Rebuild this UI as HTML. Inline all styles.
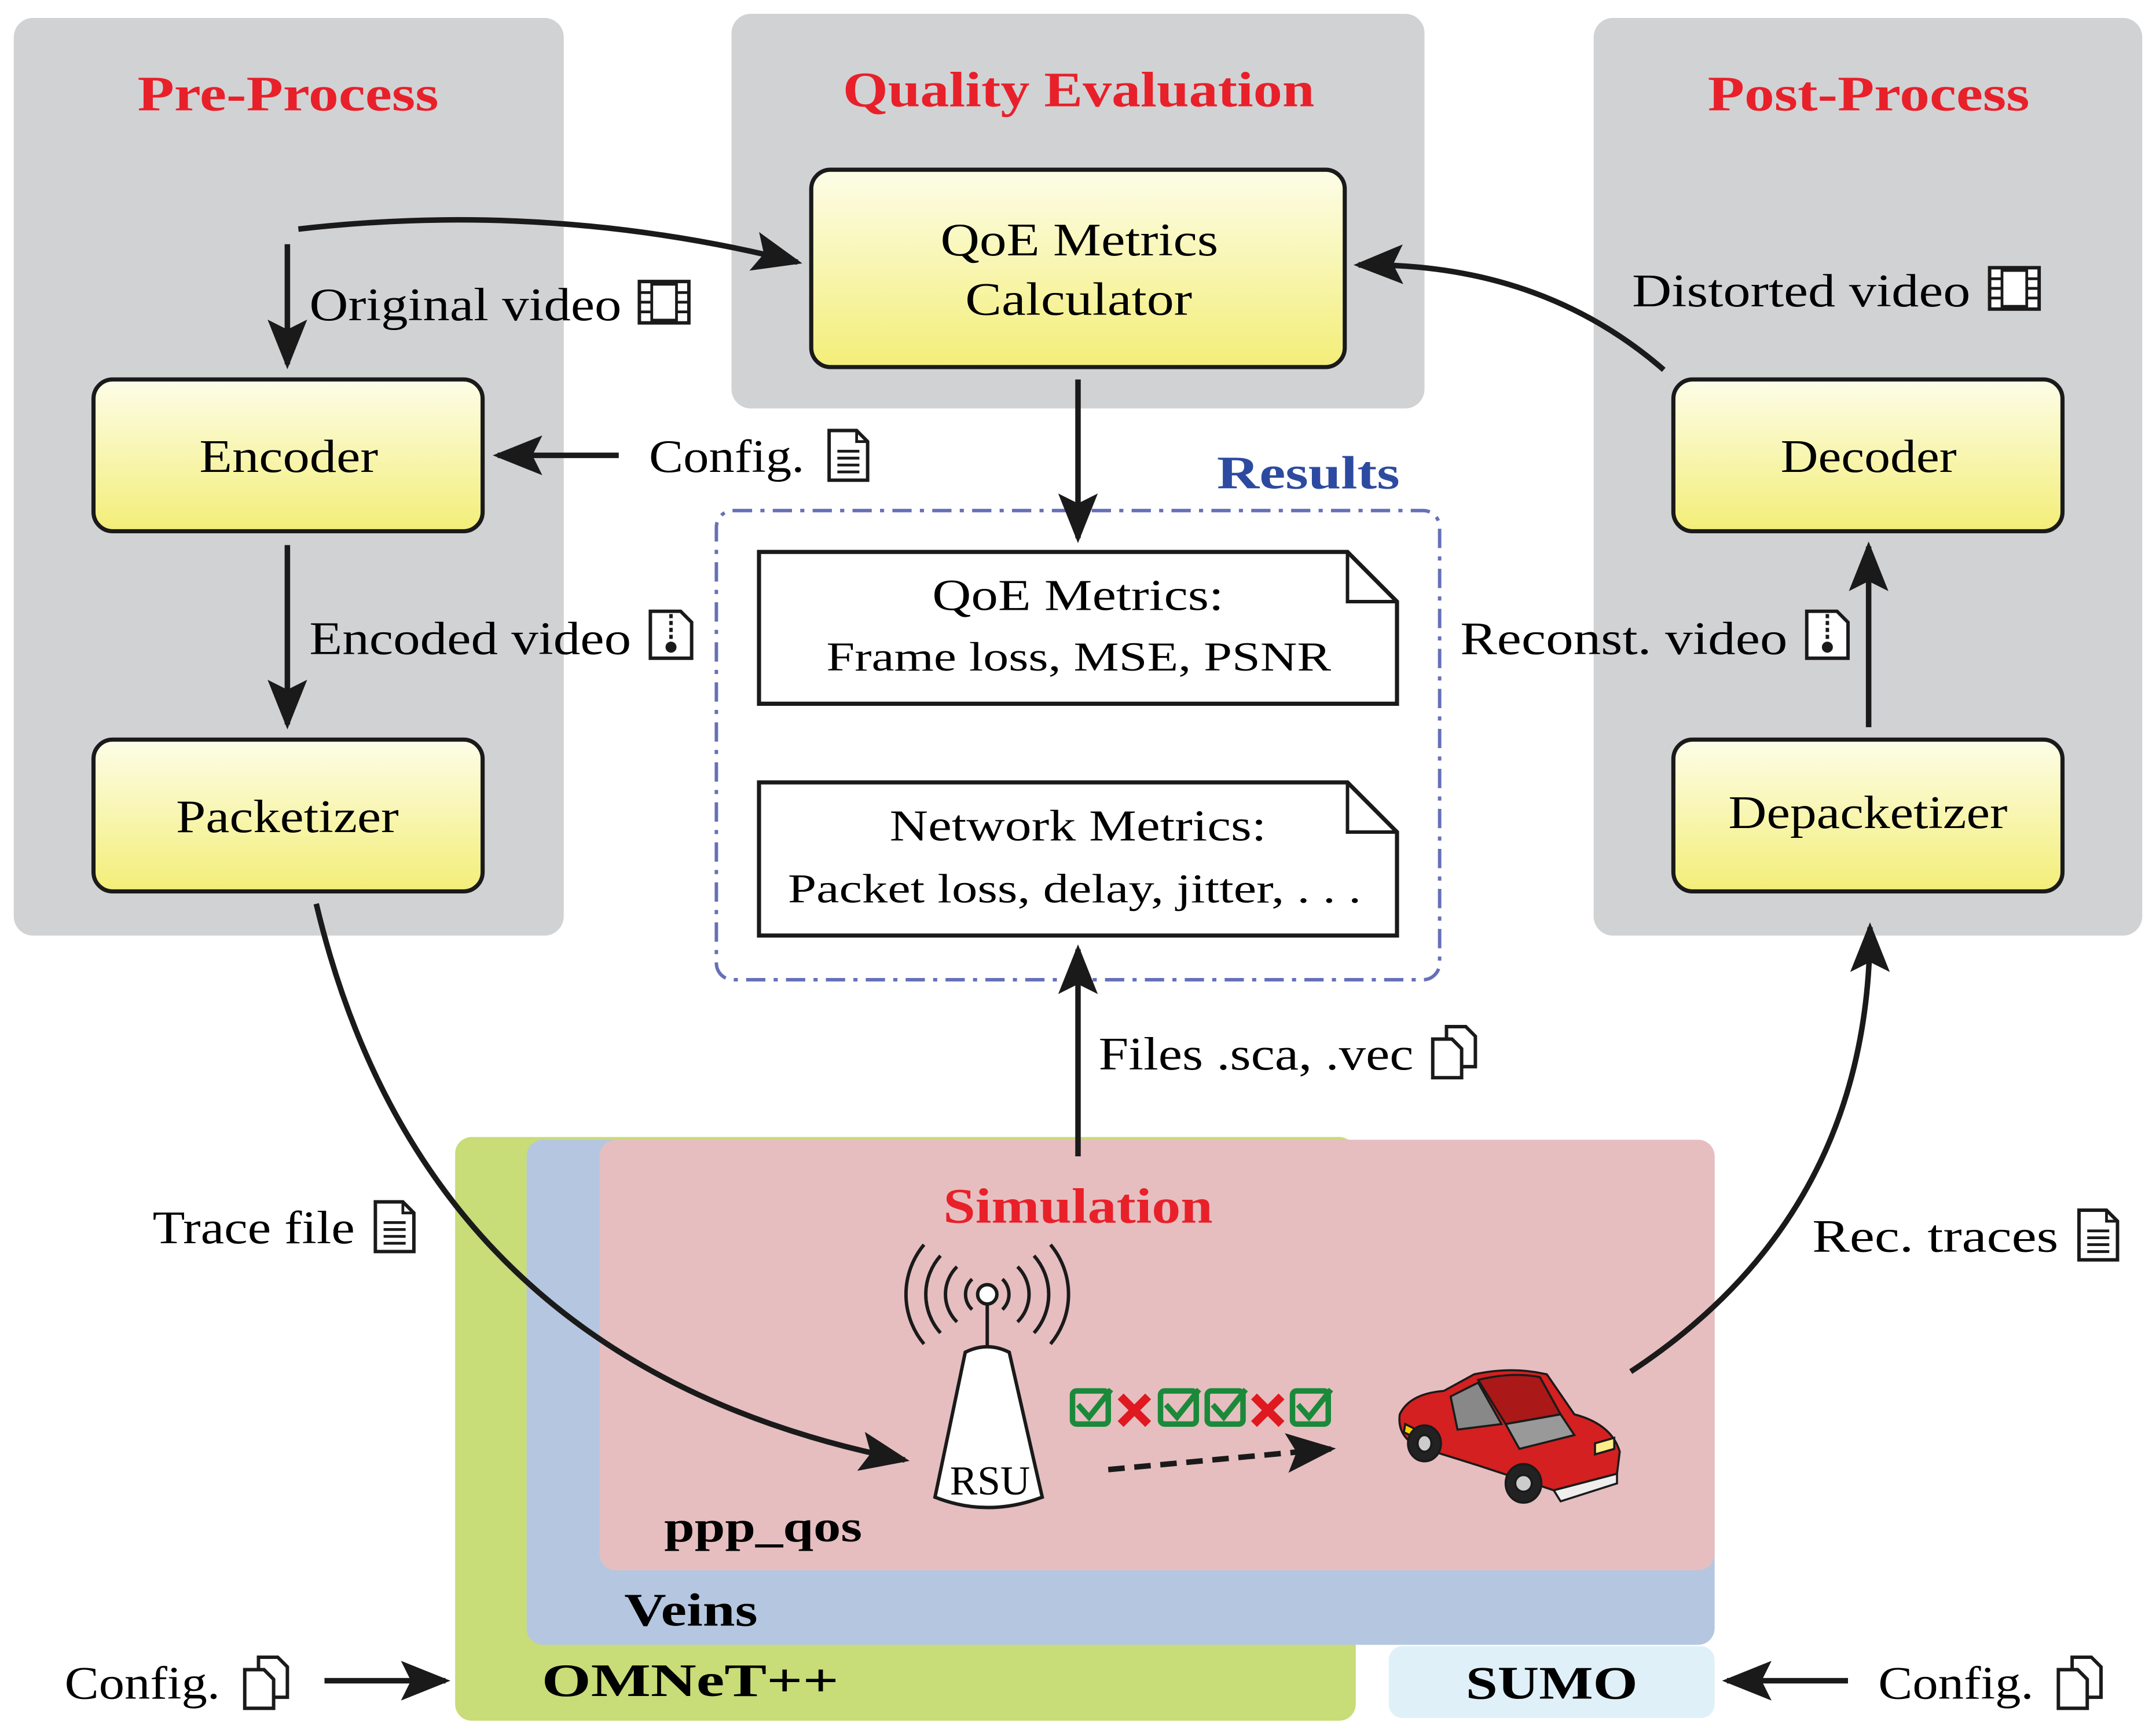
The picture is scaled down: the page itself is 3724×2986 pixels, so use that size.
<!DOCTYPE html>
<html><head><meta charset="utf-8"><style>
html,body{margin:0;padding:0;background:#fff;}
svg{display:block;}
text{font-family:"Liberation Serif",serif;}
</style></head><body>
<svg width="3724" height="2986" viewBox="0 0 1568 1253" preserveAspectRatio="none" xmlns="http://www.w3.org/2000/svg">
<defs>
<linearGradient id="y" x1="0" y1="0" x2="0" y2="1"><stop offset="0" stop-color="#fdfde8"/><stop offset="1" stop-color="#f3ee78"/></linearGradient>
<marker id="a" viewBox="0 0 10 10" refX="9" refY="5" markerWidth="9" markerHeight="9" orient="auto-start-reverse" markerUnits="strokeWidth"><path d="M0,1 L10,5 L0,9 L2,5 z" fill="#1a1a1a"/></marker>
<g id="doc"><path d="M0,0 h20 l8,8 v28 h-28 z" fill="#fff" stroke="#1a1a1a" stroke-width="2.5"/><path d="M20,0 v8 h8" fill="none" stroke="#1a1a1a" stroke-width="2"/><path d="M6,15h16M6,20h16M6,25h16M6,30h16" stroke="#1a1a1a" stroke-width="2"/></g>
<g id="film"><rect x="0" y="0" width="36" height="30" fill="#fff" stroke="#1a1a1a" stroke-width="2.5"/><rect x="9" y="2" width="18" height="26" fill="none" stroke="#1a1a1a" stroke-width="2"/><path d="M0,8h9M0,15h9M0,22h9M27,8h9M27,15h9M27,22h9" stroke="#1a1a1a" stroke-width="2"/></g>
<g id="zip"><path d="M0,0 h22 l8,8 v26 h-30 z" fill="#fff" stroke="#1a1a1a" stroke-width="2.5"/><path d="M15,2v18" stroke="#1a1a1a" stroke-width="2.5" stroke-dasharray="3,2"/><circle cx="15" cy="26" r="4" fill="#1a1a1a"/></g>
<g id="docs"><path d="M10,0 h14 l7,7 v22 h-21 z" fill="#fff" stroke="#1a1a1a" stroke-width="2.5"/><path d="M0,9 h14 l7,7 v21 h-21 z" fill="#fff" stroke="#1a1a1a" stroke-width="2.5"/></g>
</defs>
<rect x="10" y="13" width="400" height="665" rx="14" fill="#d1d2d4"/>
<rect x="532" y="10" width="504" height="286" rx="14" fill="#d1d2d4"/>
<rect x="1159" y="13" width="399" height="665" rx="14" fill="#d1d2d4"/>
<text x="100" y="80" font-size="36" fill="#e8202a" font-weight="bold" textLength="219" lengthAdjust="spacingAndGlyphs">Pre-Process</text>
<text x="613" y="77" font-size="36" fill="#e8202a" font-weight="bold" textLength="343" lengthAdjust="spacingAndGlyphs">Quality Evaluation</text>
<text x="1242" y="80" font-size="36" fill="#e8202a" font-weight="bold" textLength="234" lengthAdjust="spacingAndGlyphs">Post-Process</text>
<rect x="590" y="123" width="388" height="143" rx="14" fill="url(#y)" stroke="#1a1a1a" stroke-width="3"/>
<text x="684" y="185" font-size="34" textLength="202" lengthAdjust="spacingAndGlyphs">QoE Metrics</text>
<text x="702" y="228" font-size="34" textLength="165" lengthAdjust="spacingAndGlyphs">Calculator</text>
<rect x="68" y="275" width="283" height="110" rx="14" fill="url(#y)" stroke="#1a1a1a" stroke-width="3"/>
<text x="145" y="342" font-size="34" textLength="130" lengthAdjust="spacingAndGlyphs">Encoder</text>
<rect x="68" y="536" width="283" height="110" rx="14" fill="url(#y)" stroke="#1a1a1a" stroke-width="3"/>
<text x="128" y="603" font-size="34" textLength="162" lengthAdjust="spacingAndGlyphs">Packetizer</text>
<rect x="1217" y="275" width="283" height="110" rx="14" fill="url(#y)" stroke="#1a1a1a" stroke-width="3"/>
<text x="1295" y="342" font-size="34" textLength="128" lengthAdjust="spacingAndGlyphs">Decoder</text>
<rect x="1217" y="536" width="283" height="110" rx="14" fill="url(#y)" stroke="#1a1a1a" stroke-width="3"/>
<text x="1257" y="600" font-size="34" textLength="203" lengthAdjust="spacingAndGlyphs">Depacketizer</text>
<rect x="521" y="370" width="526" height="340" rx="12" fill="none" stroke="#6670b8" stroke-width="2.5" stroke-dasharray="14,6,3,6"/>
<text x="885" y="354" font-size="34" fill="#2c4aa0" font-weight="bold" textLength="133" lengthAdjust="spacingAndGlyphs">Results</text>
<path d="M552,400 H980 L1016,436 V510 H552 Z" fill="#fff" stroke="#1a1a1a" stroke-width="3"/>
<path d="M980,400 V436 H1016" fill="none" stroke="#1a1a1a" stroke-width="2.5"/>
<text x="678" y="442" font-size="32" textLength="212" lengthAdjust="spacingAndGlyphs">QoE Metrics:</text>
<text x="601" y="486" font-size="30" textLength="367" lengthAdjust="spacingAndGlyphs">Frame loss, MSE, PSNR</text>
<path d="M552,567 H980 L1016,603 V678 H552 Z" fill="#fff" stroke="#1a1a1a" stroke-width="3"/>
<path d="M980,567 V603 H1016" fill="none" stroke="#1a1a1a" stroke-width="2.5"/>
<text x="647" y="609" font-size="32" textLength="274" lengthAdjust="spacingAndGlyphs">Network Metrics:</text>
<text x="573" y="654" font-size="30" textLength="417" lengthAdjust="spacingAndGlyphs">Packet loss, delay, jitter, . . .</text>
<rect x="331" y="824" width="655" height="423" rx="12" fill="#c8dc78"/>
<rect x="1010" y="1193" width="237" height="52" rx="10" fill="#dff0f8"/>
<rect x="383" y="826" width="864" height="366" rx="12" fill="#b5c6e0"/>
<rect x="436" y="826" width="811" height="312" rx="12" fill="#e6bec0"/>
<text x="686" y="886" font-size="36" fill="#e8202a" font-weight="bold" textLength="196" lengthAdjust="spacingAndGlyphs">Simulation</text>
<text x="483" y="1117" font-size="32" font-weight="bold" textLength="144" lengthAdjust="spacingAndGlyphs">ppp_qos</text>
<text x="454" y="1178" font-size="34" font-weight="bold" textLength="97" lengthAdjust="spacingAndGlyphs">Veins</text>
<text x="394" y="1229" font-size="34" font-weight="bold" textLength="216" lengthAdjust="spacingAndGlyphs">OMNeT++</text>
<text x="1066" y="1231" font-size="34" font-weight="bold" textLength="125" lengthAdjust="spacingAndGlyphs">SUMO</text>
<g fill="none" stroke="#1a1a1a" stroke-width="2.5">
<path d="M707,927 a15,15 0 0 0 0,22 M729,927 a15,15 0 0 1 0,22"/>
<path d="M696,918 a28,28 0 0 0 0,40 M740,918 a28,28 0 0 1 0,40"/>
<path d="M684,910 a42,42 0 0 0 0,56 M752,910 a42,42 0 0 1 0,56"/>
<path d="M672,902 a56,56 0 0 0 0,72 M764,902 a56,56 0 0 1 0,72"/>
<circle cx="718" cy="938" r="7" fill="#fff"/>
<path d="M718,945 V975"/>
</g>
<path d="M702,980 Q718,972 734,980 L758,1085 Q718,1100 680,1085 Z" fill="#fff" stroke="#1a1a1a" stroke-width="2.5"/>
<text x="720" y="1083" font-size="30" text-anchor="middle">RSU</text>
<g stroke-width="4" fill="none">
<rect x="780" y="1008" width="26" height="24" stroke="#1a8a3a" rx="3"/><path d="M784,1018 l8,9 l16,-20" stroke="#1a8a3a"/>
<path d="M815,1012 l20,20 M835,1012 l-20,20" stroke="#e01820" stroke-width="6"/>
<rect x="844" y="1008" width="26" height="24" stroke="#1a8a3a" rx="3"/><path d="M848,1018 l8,9 l16,-20" stroke="#1a8a3a"/>
<rect x="878" y="1008" width="26" height="24" stroke="#1a8a3a" rx="3"/><path d="M882,1018 l8,9 l16,-20" stroke="#1a8a3a"/>
<path d="M912,1012 l20,20 M932,1012 l-20,20" stroke="#e01820" stroke-width="6"/>
<rect x="940" y="1008" width="26" height="24" stroke="#1a8a3a" rx="3"/><path d="M944,1018 l8,9 l16,-20" stroke="#1a8a3a"/>
</g>
<path d="M806,1065 L968,1050" stroke="#1a1a1a" stroke-width="4" stroke-dasharray="12,7" marker-end="url(#a)"/>
<g stroke="#1a1a1a" stroke-width="1.5">
<path d="M1018,1025 Q1025,1010 1050,1008 L1072,996 Q1100,990 1125,996 L1145,1025 Q1172,1032 1178,1052 L1176,1068 L1130,1080 L1075,1062 L1030,1048 Q1016,1040 1018,1025 Z" fill="#d42020"/>
<path d="M1075,1000 Q1100,994 1120,998 L1135,1025 L1095,1032 Z" fill="#aa1818"/>
<path d="M1095,1032 L1135,1025 L1145,1040 L1105,1050 Z" fill="#999"/>
<path d="M1055,1012 L1075,1002 L1092,1032 L1060,1036 Z" fill="#888"/>
<path d="M1130,1080 L1176,1068 L1176,1075 L1135,1088 Z" fill="#eee"/>
<path d="M1022,1032 l8,4 l0,6 l-9,-4 z" fill="#ffd000"/>
<path d="M1160,1046 l14,-4 l0,8 l-14,4 z" fill="#ffee88"/>
<ellipse cx="1036" cy="1046" rx="12" ry="13" fill="#222"/><ellipse cx="1036" cy="1046" rx="5" ry="6" fill="#ccc"/>
<ellipse cx="1108" cy="1075" rx="13" ry="14" fill="#222"/><ellipse cx="1108" cy="1075" rx="6" ry="6" fill="#ccc"/>
</g>
<g fill="none" stroke="#1a1a1a" stroke-width="4" marker-end="url(#a)">
<path d="M217,166 Q400,145 580,190"/>
<path d="M209,177 V264"/>
<path d="M450,330 H362"/>
<path d="M209,395 V525"/>
<path d="M784,275 V390"/>
<path d="M1210,268 Q1120,190 988,192"/>
<path d="M1359,527 V396"/>
<path d="M784,838 V688"/>
<path d="M230,655 Q310,990 658,1058"/>
<path d="M1186,994 Q1360,880 1360,672"/>
<path d="M236,1218 H324"/>
<path d="M1344,1218 H1256"/>
</g>
<text x="225" y="232" font-size="34" textLength="227" lengthAdjust="spacingAndGlyphs">Original video</text>
<use href="#film" x="465" y="204"/>
<text x="472" y="342" font-size="34" textLength="113" lengthAdjust="spacingAndGlyphs">Config.</text>
<use href="#doc" x="603" y="312"/>
<text x="225" y="474" font-size="34" textLength="234" lengthAdjust="spacingAndGlyphs">Encoded video</text>
<use href="#zip" x="473" y="443"/>
<text x="1187" y="222" font-size="34" textLength="246" lengthAdjust="spacingAndGlyphs">Distorted video</text>
<use href="#film" x="1447" y="194"/>
<text x="1062" y="474" font-size="34" textLength="238" lengthAdjust="spacingAndGlyphs">Reconst. video</text>
<use href="#zip" x="1314" y="443"/>
<text x="799" y="775" font-size="34" textLength="229" lengthAdjust="spacingAndGlyphs">Files .sca, .vec</text>
<use href="#docs" x="1042" y="744"/>
<text x="111" y="901" font-size="34" textLength="147" lengthAdjust="spacingAndGlyphs">Trace file</text>
<use href="#doc" x="273" y="871"/>
<text x="1318" y="907" font-size="34" textLength="179" lengthAdjust="spacingAndGlyphs">Rec. traces</text>
<use href="#doc" x="1512" y="877"/>
<text x="47" y="1231" font-size="34" textLength="113" lengthAdjust="spacingAndGlyphs">Config.</text>
<use href="#docs" x="178" y="1201"/>
<text x="1366" y="1231" font-size="34" textLength="113" lengthAdjust="spacingAndGlyphs">Config.</text>
<use href="#docs" x="1497" y="1201"/>
</svg>
</body></html>
